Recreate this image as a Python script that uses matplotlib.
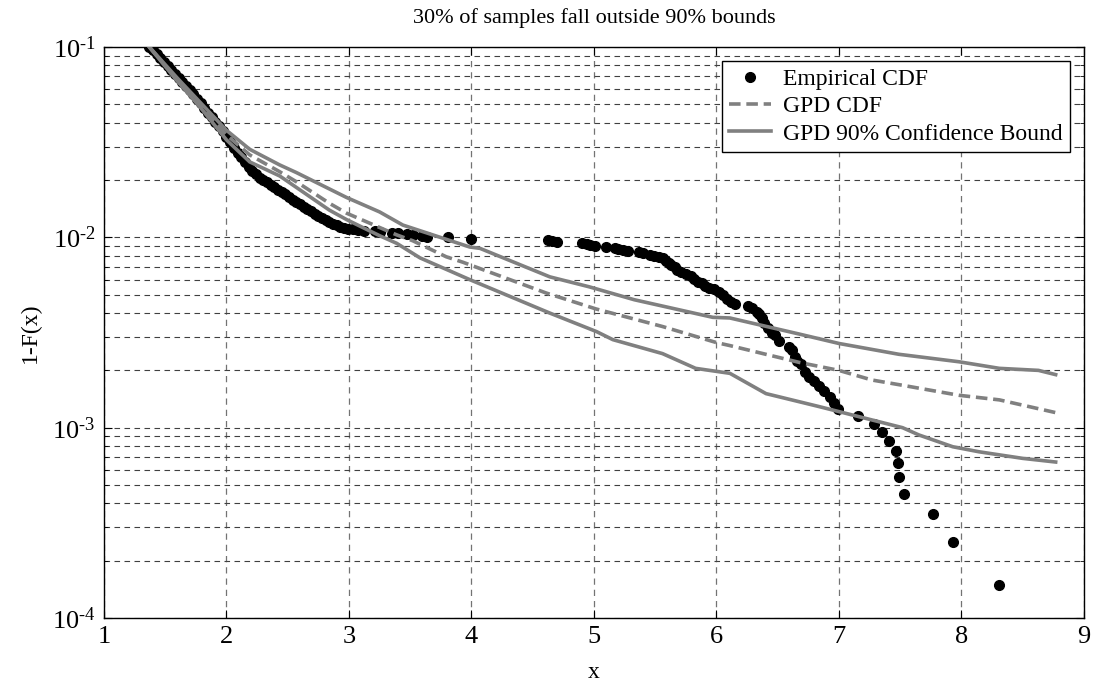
import numpy as np
import matplotlib
matplotlib.use("Agg")
import matplotlib.pyplot as plt
from matplotlib.ticker import LogLocator, FixedLocator, FuncFormatter

plt.rcParams['font.family'] = ['Liberation Serif', 'DejaVu Serif']
plt.rcParams['mathtext.fontset'] = 'custom'
plt.rcParams['mathtext.rm'] = 'Liberation Serif'
plt.rcParams['mathtext.default'] = 'regular'

# empirical tail 1-F(x)
emp_x = [1.37, 1.40, 1.43, 1.46, 1.49, 1.52, 1.55, 1.58, 1.61, 1.64, 1.67, 1.70,
         1.73, 1.76, 1.79, 1.82, 1.85, 1.88, 1.91, 1.94, 1.97, 2.00, 2.03, 2.06,
         2.09, 2.12, 2.15, 2.18, 2.21, 2.24, 2.27, 2.30, 2.33, 2.36, 2.39, 2.42,
         2.45, 2.48, 2.51, 2.54, 2.57, 2.60, 2.63, 2.66, 2.69, 2.72, 2.75, 2.78,
         2.81, 2.84, 2.87, 2.90, 2.93, 2.96, 2.99, 3.03, 3.07, 3.12, 3.21, 3.25,
         3.35, 3.40, 3.47, 3.52, 3.60, 3.64, 3.81, 4.00,
         4.625, 4.66, 4.70, 4.90, 4.94, 4.97, 5.01, 5.10, 5.17, 5.20, 5.24, 5.28,
         5.37, 5.40, 5.46, 5.49, 5.53, 5.56, 5.59, 5.61, 5.63, 5.66, 5.68, 5.71,
         5.75, 5.79, 5.82, 5.85, 5.88, 5.91, 5.94, 5.98, 6.02, 6.05, 6.09, 6.12,
         6.15, 6.26, 6.29, 6.33, 6.35, 6.37, 6.39, 6.42, 6.45, 6.48, 6.51, 6.59,
         6.62, 6.64, 6.66, 6.69, 6.72, 6.76, 6.80, 6.84, 6.88, 6.93, 6.96, 6.99,
         7.16, 7.29, 7.35, 7.41, 7.47, 7.48, 7.49, 7.53, 7.77, 7.93, 8.31]
emp_y = [0.1000, 0.0960, 0.0915, 0.0875, 0.0835, 0.0795, 0.0760, 0.0725, 0.0690,
         0.0655, 0.0625, 0.0595, 0.0565, 0.0535, 0.0505, 0.0478, 0.0452, 0.0428,
         0.0405, 0.0383, 0.0360, 0.0335, 0.0315, 0.0296, 0.0279, 0.0263, 0.0248,
         0.0234, 0.0223, 0.0214, 0.0206, 0.0200, 0.0195, 0.0189, 0.0183, 0.0178,
         0.0173, 0.0168, 0.0163, 0.0158, 0.0153, 0.0149, 0.0145, 0.0141, 0.0137,
         0.0133, 0.0130, 0.0127, 0.0124, 0.0121, 0.0118, 0.0116, 0.0114, 0.0112,
         0.0111, 0.0110, 0.0109, 0.0108, 0.01075, 0.0107, 0.0106, 0.0105, 0.0104,
         0.0103, 0.0102, 0.0101, 0.0100, 0.0098,
         0.00965, 0.00955, 0.00945, 0.00935, 0.00925, 0.00915, 0.00905, 0.00895,
         0.00875, 0.00865, 0.00855, 0.00845, 0.00835, 0.00825, 0.00805, 0.00795,
         0.00785, 0.00775, 0.00755, 0.00735, 0.00715, 0.00695, 0.00675, 0.00655,
         0.00645, 0.00625, 0.00605, 0.00585, 0.00575, 0.00555, 0.00545, 0.00535,
         0.00515, 0.00495, 0.00475, 0.00455, 0.00445, 0.00435, 0.00425, 0.00405,
         0.00395, 0.00375, 0.00355, 0.00335, 0.00315, 0.00305, 0.00285, 0.00265,
         0.00255, 0.00235, 0.00225, 0.00215, 0.00195, 0.00185, 0.00175, 0.00165,
         0.00155, 0.00145, 0.00135, 0.00125, 0.00115, 0.00105, 0.00095, 0.00085,
         0.00075, 0.00065, 0.00055, 0.00045, 0.00035, 0.00025, 0.00015]

gpd_x = [1.37, 1.6, 1.8, 2.0, 2.19, 2.435, 2.57, 2.84, 2.98, 3.39, 3.52, 3.795,
         3.93, 4.61, 5.02, 5.56, 6.0, 6.11, 6.68, 7.0, 7.27, 7.52, 7.98, 8.31, 8.77]
gpd_y = [0.1, 0.067, 0.0485, 0.0345, 0.0271, 0.0221, 0.0196, 0.0151, 0.0134,
         0.0103, 0.0096, 0.0079, 0.0074, 0.0051, 0.0042, 0.0034, 0.0028, 0.0027,
         0.0022, 0.0020, 0.00178, 0.00167, 0.00148, 0.0014, 0.0012]

up_x = [1.37, 1.6, 1.8, 2.0, 2.19, 2.435, 2.57, 2.98, 3.25, 3.44, 3.985, 4.07,
        4.64, 4.96, 5.33, 5.97, 6.11, 6.68, 7.0, 7.49, 7.98, 8.31, 8.63, 8.77]
up_y = [0.1, 0.0685, 0.050, 0.0365, 0.029, 0.024, 0.0219, 0.0162, 0.0136,
        0.0116, 0.0089, 0.00875, 0.0062, 0.0055, 0.0047, 0.0038, 0.00377,
        0.0031, 0.00277, 0.00243, 0.00222, 0.00205, 0.0020, 0.0019]

lo_x = [1.37, 1.6, 1.8, 2.0, 2.19, 2.435, 2.84, 2.98, 3.25, 3.39, 3.58, 3.985,
        4.64, 5.02, 5.155, 5.56, 5.83, 6.11, 6.405, 6.84, 7.17, 7.52, 7.655,
        7.93, 8.145, 8.5, 8.77]
lo_y = [0.1, 0.066, 0.047, 0.0325, 0.0249, 0.021, 0.0139, 0.0124, 0.0102,
        0.0093, 0.0078, 0.0060, 0.0040, 0.0032, 0.0029, 0.00245, 0.00205,
        0.00193, 0.00151, 0.00129, 0.00114, 0.0010, 0.000915, 0.000794,
        0.000747, 0.00069, 0.00066]

fig = plt.figure(figsize=(10.96, 6.9), dpi=100)
ax = fig.add_axes([0.0949, 0.1043, 0.894, 0.8276])

gray = '#808080'
ax.plot(emp_x, emp_y, 'o', color='k', ms=7, label='Empirical CDF', zorder=3)
ax.plot(gpd_x, gpd_y, '--', color=gray, lw=2.6, dashes=(3.2, 1.6), label='GPD CDF', zorder=4)
ax.plot(up_x, up_y, '-', color=gray, lw=2.6, label='GPD 90% Confidence Bound', zorder=4)
ax.plot(lo_x, lo_y, '-', color=gray, lw=2.6, zorder=4)

ax.set_yscale('log')
ax.set_xlim(1, 9)
ax.set_ylim(1e-4, 1e-1)
ax.xaxis.set_major_locator(FixedLocator(range(1, 10)))
ax.yaxis.set_major_locator(LogLocator(base=10, numticks=10))
ax.yaxis.set_minor_locator(LogLocator(base=10, subs=np.arange(2, 10), numticks=20))
ax.yaxis.set_major_formatter(FuncFormatter(
    lambda v, p: r'$10^{\text{-%d}}$' % round(-np.log10(v))))

ax.grid(True, which='major', axis='x', linestyle=(0, (5, 4)), color='0.45', lw=0.9)
ax.grid(True, which='both', axis='y', linestyle=(0, (5, 4)), color='0.25', lw=0.8)
ax.set_axisbelow(True)

ax.tick_params(which='both', direction='in', top=True, right=True, labelsize=19)
ax.tick_params(which='major', length=6, pad=6)
ax.tick_params(which='minor', length=3)
for s in ax.spines.values():
    s.set_linewidth(1.0)

ax.set_xlabel('x', fontsize=17, labelpad=10)
ax.set_ylabel('1-F(x)', fontsize=17, labelpad=8)
ax.set_title('30% of samples fall outside 90% bounds', fontsize=16, pad=17)

leg = ax.legend(loc='upper right', fontsize=17, fancybox=False, framealpha=1,
                edgecolor='k', handlelength=1.8, handletextpad=0.5,
                borderpad=0.3, labelspacing=0.25, borderaxespad=0.6)
leg.get_frame().set_linewidth(1.0)

fig.savefig('out.png', dpi=100)
